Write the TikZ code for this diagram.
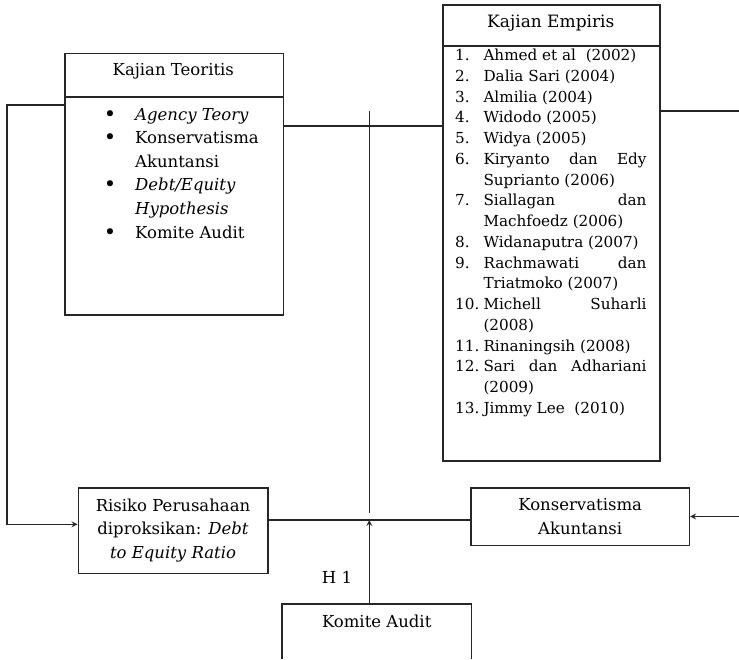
\documentclass[tikz,border=0pt]{standalone}
\usepackage{fontspec}
\setmainfont{DejaVu Serif}
\usepackage{tikz}
\newcommand{\spreadline}[1]{\makebox[163pt][s]{#1}}

\begin{document}
\begin{tikzpicture}[x=1pt, y=-1pt, >=stealth,
  font=\fontsize{16.5}{23.3}\selectfont,
  box/.style={draw=black!85, rectangle, line width=1.6pt, inner sep=0pt},
  txt/.style={inner sep=0pt},
  link/.style={draw=black!85, line width=1.6pt}]
\useasboundingbox (0,0) rectangle (739,659);

% kajian teoritis
\node[box, anchor=north west, minimum width=218.7pt, minimum height=261.6pt] (teo) at (64,52.7) {};
\node[txt] (teotitle) at (173.3,71.7) {Kajian Teoritis};
\draw[link] ([yshift=-44pt]teo.north west) -- ([yshift=-44pt]teo.north east);
\foreach \b/\t [count=\i] in {\textbullet/\textit{Agency Teory}, \textbullet/Konservatisma, /Akuntansi,
    \textbullet/\textit{Debt/Equity}, /\textit{Hypothesis}, \textbullet/Komite Audit}{
  \node[txt, anchor=base, font=\fontsize{21}{23.3}\selectfont] (teobul\i) at ({110},{121+23.6*(\i-1)}) {\b};
  \node[txt, anchor=base west] (teoitem\i) at ({135},{120+23.6*(\i-1)}) {\t};
}

% kajian empiris
\node[box, anchor=north west, minimum width=217pt, minimum height=456pt] (emp) at (442.3,4) {};
\node[txt, font=\fontsize{17}{20}\selectfont] (emptitle) at (550.8,22.7) {Kajian Empiris};
\draw[link] ([yshift=-41.7pt]emp.north west) -- ([yshift=-41.7pt]emp.north east);
\foreach \n/\t [count=\i] in {1./Ahmed et al~ (2002), 2./Dalia Sari (2004), 3./Almilia (2004),
    4./Widodo (2005), 5./Widya (2005), 6./\spreadline{Kiryanto dan Edy}, /Suprianto (2006),
    7./\spreadline{Siallagan dan}, /Machfoedz (2006), 8./Widanaputra (2007),
    9./\spreadline{Rachmawati dan}, /Triatmoko (2007), 10./\spreadline{Michell Suharli}, /(2008),
    11./Rinaningsih (2008), 12./\spreadline{Sari dan Adhariani}, /(2009), 13./Jimmy Lee~ (2010)}{
  \node[txt, anchor=base west, font=\fontsize{15.2}{20}\selectfont] (empnum\i) at ({455},{60.5+20.76*(\i-1)}) {\n};
  \node[txt, anchor=base west, font=\fontsize{15.2}{20}\selectfont] (empitem\i) at ({483.3},{60.5+20.76*(\i-1)}) {\t};
}

% variabel
\node[box, minimum width=189.4pt, minimum height=85.6pt, align=center] (risiko) at (173,530.5)
  {Risiko Perusahaan\\diproksikan: \textit{Debt}\\\textit{to Equity Ratio}};
\node[box, minimum width=218.3pt, minimum height=57.6pt, align=center] (kons) at (580.2,516.5)
  {Konservatisma\\Akuntansi};
\node[txt, minimum width=189.3pt, minimum height=55pt, anchor=north] (komite) at (376.7,604) {};
\node[txt] (komitetext) at ([yshift=-17.7pt]komite.north) {Komite Audit};
\draw[link] (komite.south west) -- (komite.north west) -- (komite.north east) -- (komite.south east);
\node[txt] (h1) at (337,577.3) {H 1};

% garis
\coordinate (hmod) at (369.3,520);
\coordinate (modtop) at (369.3,110.7);
\draw[link, ->] ([yshift=-52.3pt]teo.north west) -- ++(-57pt,0) |- ([yshift=6.2pt]risiko.west);
\draw[link] ([yshift=-73.3pt]teo.north east) -- ([yshift=-73.3pt]teo.north east -| emp.west);
\draw[link] (modtop) -- ([yshift=7pt]hmod);
\draw[link] (hmod -| risiko.east) -- (hmod -| kons.west);
\draw[link, ->] (komite.north -| hmod) -- (hmod);
\draw[link] ([yshift=-106.7pt]emp.north east) -- ++(80pt,0);
\draw[link, <-] (kons.east) -- ++(50pt,0);
\end{tikzpicture}
\end{document}
